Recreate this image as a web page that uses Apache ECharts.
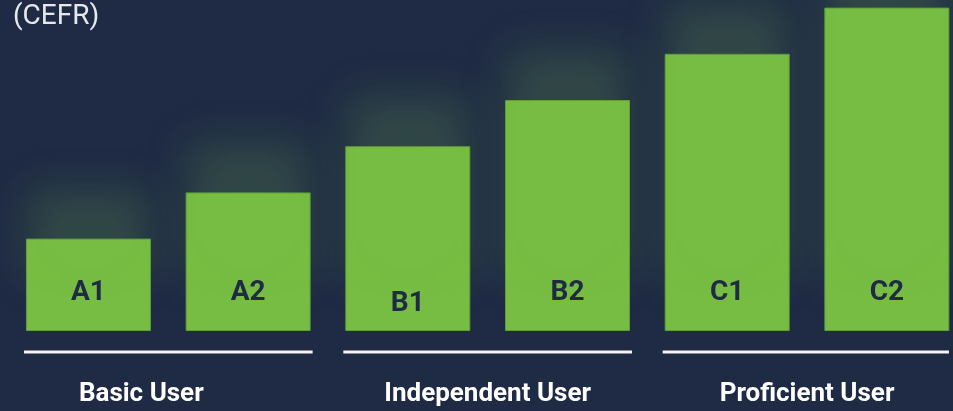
<!DOCTYPE html>
<html>
<head>
<meta charset="utf-8">
<script src="https://cdn.jsdelivr.net/npm/echarts@6/dist/echarts.min.js"></script>
<style>
  html, body { margin: 0; padding: 0; background: #1f2a45; }
  #chart { width: 953px; height: 411px; }
</style>
</head>
<body>
<div id="chart"></div>
<script>
// CEFR levels, one bar each
const levels = ['A1', 'A2', 'B1', 'B2', 'C1', 'C2']
const levelValues = [2, 3, 4, 5, 6, 7]
// groups: [first level index, last level index, name]
const groupNames = ['Basic User', 'Independent User', 'Proficient User']
const groupStart = [0, 2, 4]
const groupEnd = [1, 3, 5]

const chart = echarts.init(document.getElementById('chart'))

const barData = levelValues.map((v, i) => {
    const item = { value: v }
    // B1 label sits a little lower in the original
    if (levels[i] === 'B1') item.label = { distance: 13 }
    return item
})

const groupData = groupNames.map((n, i) => [groupStart[i], groupEnd[i], n])

const option = {
    backgroundColor: '#1f2a45',
    animation: false,
    title: {
        text: '(CEFR)',
        left: 8,
        top: -2,
        textStyle: {
            color: '#e6e8ec',
            fontFamily: 'Roboto',
            fontWeight: 'normal',
            fontSize: 28
        }
    },
    grid: {
        left: 8.6,
        right: -13.7,
        top: 7.6,
        bottom: 80,
        outerBoundsMode: 'none'
    },
    xAxis: {
        type: 'category',
        data: levels,
        show: false
    },
    yAxis: {
        type: 'value',
        min: 0,
        max: 7,
        show: false
    },
    series: [
        {
            type: 'bar',
            barWidth: 125,
            data: barData,
            itemStyle: {
                color: '#78bd43',
                borderColor: '#5f9d3b',
                borderWidth: 1,
                shadowColor: 'rgba(120, 190, 80, 0.2)',
                shadowBlur: 40,
                shadowOffsetY: -52
            },
            label: {
                show: true,
                position: 'insideBottom',
                distance: 24,
                formatter: p => p.name,
                color: '#1f2a45',
                fontFamily: 'Roboto',
                fontWeight: 'bold',
                fontSize: 28,
                lineHeight: 28
            }
        },
        {
            type: 'custom',
            clip: false,
            silent: true,
            data: groupData,
            renderItem: (params, api) => {
                const p0 = api.coord([api.value(0), 0])
                const p1 = api.coord([api.value(1), 0])
                const half = 64.5
                const x0 = p0[0] - half
                const x1 = Math.min(p1[0] + half, 949)
                const y = p0[1] + 21
                // the first group's name is set left of centre in the original
                const shift = params.dataIndex === 0 ? -27 : 0
                return {
                    type: 'group',
                    children: [
                        {
                            type: 'line',
                            shape: { x1: x0, y1: y, x2: x1, y2: y },
                            style: { stroke: '#f2f2f2', lineWidth: 3 }
                        },
                        {
                            type: 'text',
                            style: {
                                text: groupNames[params.dataIndex],
                                x: (p0[0] - half + p1[0] + half) / 2 + shift,
                                y: y + 42,
                                align: 'center',
                                verticalAlign: 'middle',
                                fill: '#ffffff',
                                font: 'bold 26px Roboto'
                            }
                        }
                    ]
                }
            }
        }
    ]
}

chart.setOption(option)
</script>
</body>
</html>
